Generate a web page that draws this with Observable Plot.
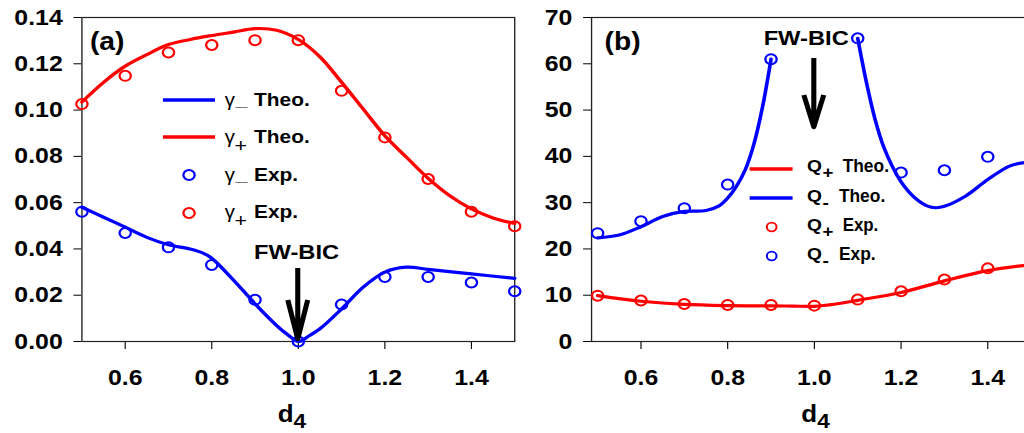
<!DOCTYPE html>
<html>
<head>
<meta charset="utf-8">
<script src="https://cdn.jsdelivr.net/npm/d3@7"></script>
<script src="https://cdn.jsdelivr.net/npm/@observablehq/plot@0.6"></script>
<style>
  html, body { margin: 0; padding: 0; background: #fff; overflow: hidden; width: 1024px; height: 433px; }
  #wrap { position: absolute; left: 0; top: 0; width: 907px; height: 433px; transform: scaleX(1.13); transform-origin: 0 0; }
  #pa { position: absolute; left: 0; top: 0; width: 460px; height: 433px; }
  #pb { position: absolute; left: 451px; top: 0; width: 466px; height: 433px; }
</style>
</head>
<body>
<div id="wrap"><div id="pa"></div><div id="pb"></div></div>
<script>
// ---------- data ----------
const d4Exp = [0.5, 0.6, 0.7, 0.8, 0.9, 1.0, 1.1, 1.2, 1.3, 1.4, 1.5];
const xTicks = [0.6, 0.8, 1.0, 1.2, 1.4];
const gammaTicks = [0, 0.02, 0.04, 0.06, 0.08, 0.10, 0.12, 0.14];
const qTicks = [0, 10, 20, 30, 40, 50, 60, 70];

// panel (a): damping rates
const gammaMinusExp = [0.0561, 0.0469, 0.0407, 0.0331, 0.0180, 0.0000, 0.0160, 0.0279, 0.0279, 0.0255, 0.0217];
const gammaPlusExp  = [0.1026, 0.1148, 0.1249, 0.1281, 0.1302, 0.1302, 0.1083, 0.0882, 0.0702, 0.0561, 0.0498];

const d4TheoMinusA = [0.50, 0.55, 0.60, 0.65, 0.70, 0.75, 0.78, 0.80, 0.85, 0.90, 0.95, 0.975, 1.00, 1.025, 1.05, 1.10, 1.15, 1.20, 1.25, 1.30, 1.40, 1.50];
const gammaMinusTheo = [0.0580, 0.0537, 0.0494, 0.0450, 0.0418, 0.0400, 0.0382, 0.0360, 0.0266, 0.0163, 0.0069, 0.0030, 0.0000, 0.0025, 0.0055, 0.0141, 0.0235, 0.0300, 0.0321, 0.0312, 0.0292, 0.0273];

const d4TheoPlusA = [0.50, 0.55, 0.60, 0.65, 0.70, 0.75, 0.80, 0.85, 0.90, 0.95, 1.00, 1.05, 1.10, 1.15, 1.20, 1.25, 1.30, 1.35, 1.40, 1.45, 1.50];
const gammaPlusTheo = [0.1035, 0.1120, 0.1190, 0.1240, 0.1283, 0.1305, 0.1322, 0.1337, 0.1352, 0.1345, 0.1305, 0.1230, 0.1120, 0.1004, 0.0889, 0.0796, 0.0705, 0.0630, 0.0573, 0.0534, 0.0510];

// panel (b): quality factors
const qPlusExp  = [9.9, 8.85, 8.1, 7.9, 7.9, 7.75, 9.05, 10.85, 13.4, 15.8, 16.8];
const qMinusExp = [23.4, 26.0, 28.8, 33.9, 61.0, null, 65.5, 36.5, 37.0, 39.9, 47.7];

const d4TheoQPlus = [0.5, 0.6, 0.7, 0.8, 0.9, 0.95, 1.0, 1.05, 1.1, 1.2, 1.3, 1.4, 1.5];
const qPlusTheo   = [9.9, 8.7, 8.0, 7.75, 7.7, 7.65, 7.6, 8.1, 8.9, 10.6, 13.1, 15.3, 16.6];

const d4TheoQMinusLeft = [0.50, 0.55, 0.60, 0.65, 0.70, 0.75, 0.78, 0.80, 0.82, 0.84, 0.86, 0.88, 0.90];
const qMinusTheoLeft   = [22.4, 23.0, 24.8, 27.0, 28.1, 28.3, 29.3, 31.0, 33.5, 37.0, 42.5, 50.5, 61.0];
const d4TheoQMinusRight = [1.10, 1.12, 1.14, 1.16, 1.18, 1.20, 1.23, 1.26, 1.28, 1.30, 1.35, 1.40, 1.45, 1.48, 1.50];
const qMinusTheoRight   = [65.5, 56.0, 48.0, 42.0, 37.8, 34.5, 31.2, 29.3, 28.9, 29.2, 31.5, 35.0, 37.9, 38.6, 38.6];

// ---------- helpers ----------
const RED = "#ff0000", BLUE = "#0000ff";
const FONT = '"Liberation Sans", Arial, Helvetica, sans-serif';
const zip = (xs, ys) => xs.map((x, i) => ({x, y: ys[i]})).filter(d => d.y != null);

function richText(sel, pieces) {
  const t = sel.append("text").attr("font-family", FONT).attr("fill", "#000").attr("text-anchor", "start");
  pieces.forEach(p => {
    const ts = t.append("tspan").text(p.t)
      .attr("x", p.x).attr("y", p.y)
      .attr("font-size", p.size)
      .attr("font-weight", p.weight || "bold");
    if (p.len) ts.attr("textLength", p.len).attr("lengthAdjust", "spacingAndGlyphs");
  });
  return t;
}

function arrow(sel, x, y0, y1, headY, hw) {
  sel.append("path")
    .attr("d", `M${x},${y0}V${y1}M${x - hw},${headY}L${x},${y1}L${x + hw},${headY}`)
    .attr("fill", "none").attr("stroke", "#000").attr("stroke-width", 4.5)
    .attr("stroke-linejoin", "round").attr("stroke-linecap", "butt");
}

const common = {
  height: 433,
  marginLeft: 72, marginRight: 5, marginTop: 17, marginBottom: 92,
  style: {fontFamily: FONT, fontSize: "22px", fontWeight: "bold", color: "#000",
          background: "transparent", maxWidth: "none", overflow: "visible"}
};

// ---------- panel (a) ----------
const pa = Plot.plot({
  ...common,
  width: 460,
  x: {domain: [0.5, 1.5], ticks: xTicks, tickFormat: d3.format(".1f"), tickSize: 8, tickPadding: 20, label: null},
  y: {domain: [0, 0.14], ticks: gammaTicks, tickFormat: d3.format(".2f"), tickSize: 7, tickPadding: 10, label: null},
  marks: [
    Plot.frame({stroke: "#222", strokeWidth: 1.2}),
    Plot.line(zip(d4TheoPlusA, gammaPlusTheo), {x: "x", y: "y", stroke: RED, strokeWidth: 3.2, curve: "catmull-rom"}),
    Plot.line(zip(d4TheoMinusA, gammaMinusTheo), {x: "x", y: "y", stroke: BLUE, strokeWidth: 3.2, curve: "catmull-rom"}),
    Plot.dot(zip(d4Exp, gammaPlusExp), {x: "x", y: "y", r: 5, stroke: RED, strokeWidth: 2, fill: "none"}),
    Plot.dot(zip(d4Exp, gammaMinusExp), {x: "x", y: "y", r: 5, stroke: BLUE, strokeWidth: 2, fill: "none"})
  ]
});
document.getElementById("pa").appendChild(pa);
{
  const s = d3.select(pa);
  const xa = pa.scale("x");
  const x1 = xa.apply(1.0);
  richText(s, [{t: "(a)", x: 79.6, y: 50, size: 25}]);
  const g = s.append("g");
  g.append("line").attr("x1", 144.2).attr("x2", 190.3).attr("y1", 100).attr("y2", 100).attr("stroke", BLUE).attr("stroke-width", 3.3);
  g.append("line").attr("x1", 144.2).attr("x2", 190.3).attr("y1", 137).attr("y2", 137).attr("stroke", RED).attr("stroke-width", 3.3);
  g.append("circle").attr("cx", 167.3).attr("cy", 175).attr("r", 5).attr("fill", "none").attr("stroke", BLUE).attr("stroke-width", 2);
  g.append("circle").attr("cx", 167.3).attr("cy", 213).attr("r", 5).attr("fill", "none").attr("stroke", RED).attr("stroke-width", 2);
  richText(g, [{t: "γ", x: 199, y: 106, size: 18, weight: "normal"}, {t: "_", x: 208.5, y: 106, size: 19}, {t: "Theo.", x: 224.8, y: 106, size: 18.5}]);
  richText(g, [{t: "γ", x: 199, y: 143, size: 18, weight: "normal"}, {t: "+", x: 207.5, y: 152, size: 19, weight: "normal"}, {t: "Theo.", x: 224.8, y: 143, size: 18.5}]);
  richText(g, [{t: "γ", x: 199, y: 181, size: 18, weight: "normal"}, {t: "_", x: 208.5, y: 181, size: 19}, {t: "Exp.", x: 224.8, y: 181, size: 18.5}]);
  richText(g, [{t: "γ", x: 199, y: 218, size: 18, weight: "normal"}, {t: "+", x: 207.5, y: 227, size: 19, weight: "normal"}, {t: "Exp.", x: 224.8, y: 218, size: 18.5}]);
  richText(s, [{t: "FW-BIC", x: 224.8, y: 259, size: 21}]);
  arrow(s, x1, 268, 339, 300, 8.8);
  richText(s, [{t: "d", x: x1 - 17.8, y: 421.7, size: 23}, {t: "4", x: x1 - 17.8 + 14.1, y: 428, size: 20}]);
}

// ---------- panel (b) ----------
const pb = Plot.plot({
  ...common,
  width: 466,
  x: {domain: [0.486, 1.5], ticks: xTicks, tickFormat: d3.format(".1f"), tickSize: 8, tickPadding: 20, label: null},
  y: {domain: [0, 70], ticks: qTicks, tickFormat: d3.format("d"), tickSize: 7, tickPadding: 10, label: null},
  marks: [
    Plot.frame({stroke: "#222", strokeWidth: 1.2}),
    Plot.line(zip(d4TheoQPlus, qPlusTheo), {x: "x", y: "y", stroke: RED, strokeWidth: 3.2, curve: "catmull-rom"}),
    Plot.line(zip(d4TheoQMinusLeft, qMinusTheoLeft), {x: "x", y: "y", stroke: BLUE, strokeWidth: 3.2, curve: "catmull-rom"}),
    Plot.line(zip(d4TheoQMinusRight, qMinusTheoRight), {x: "x", y: "y", stroke: BLUE, strokeWidth: 3.2, curve: "catmull-rom"}),
    Plot.dot(zip(d4Exp, qPlusExp), {x: "x", y: "y", r: 5, stroke: RED, strokeWidth: 2, fill: "none"}),
    Plot.dot(zip(d4Exp, qMinusExp), {x: "x", y: "y", r: 5, stroke: BLUE, strokeWidth: 2, fill: "none"})
  ]
});
document.getElementById("pb").appendChild(pb);
{
  const s = d3.select(pb);
  const xb = pb.scale("x");
  const x1 = xb.apply(1.0);
  richText(s, [{t: "(b)", x: 84, y: 50, size: 25}]);
  const g = s.append("g");
  g.append("line").attr("x1", 212.4).attr("x2", 250.4).attr("y1", 169).attr("y2", 169).attr("stroke", RED).attr("stroke-width", 3.3);
  g.append("line").attr("x1", 212.4).attr("x2", 250.4).attr("y1", 198).attr("y2", 198).attr("stroke", BLUE).attr("stroke-width", 3.3);
  g.append("circle").attr("cx", 231.9).attr("cy", 227).attr("r", 4.3).attr("fill", "none").attr("stroke", RED).attr("stroke-width", 1.8);
  g.append("circle").attr("cx", 231.9).attr("cy", 256).attr("r", 4.3).attr("fill", "none").attr("stroke", BLUE).attr("stroke-width", 1.8);
  richText(g, [{t: "Q", x: 263.2, y: 172, size: 17}, {t: "+", x: 276.8, y: 178, size: 16.5}, {t: "Theo.", x: 294.7, y: 172, size: 18, len: 41}]);
  richText(g, [{t: "Q", x: 263.2, y: 202, size: 17}, {t: "-", x: 276.8, y: 208, size: 17}, {t: "Theo.", x: 291.4, y: 202, size: 18, len: 41}]);
  richText(g, [{t: "Q", x: 263.2, y: 231, size: 17}, {t: "+", x: 276.8, y: 237, size: 16.5}, {t: "Exp.", x: 294.7, y: 231, size: 18, len: 31.5}]);
  richText(g, [{t: "Q", x: 263.2, y: 260, size: 17}, {t: "-", x: 276.8, y: 266, size: 17}, {t: "Exp.", x: 291.4, y: 260, size: 18, len: 32.5}]);
  richText(s, [{t: "FW-BIC", x: 224.8, y: 45, size: 21}]);
  arrow(s, x1, 58, 127, 95, 8.8);
  richText(s, [{t: "d", x: x1 - 11, y: 421.7, size: 23}, {t: "4", x: x1 - 11 + 14.1, y: 428, size: 20}]);
}
</script>
</body>
</html>
